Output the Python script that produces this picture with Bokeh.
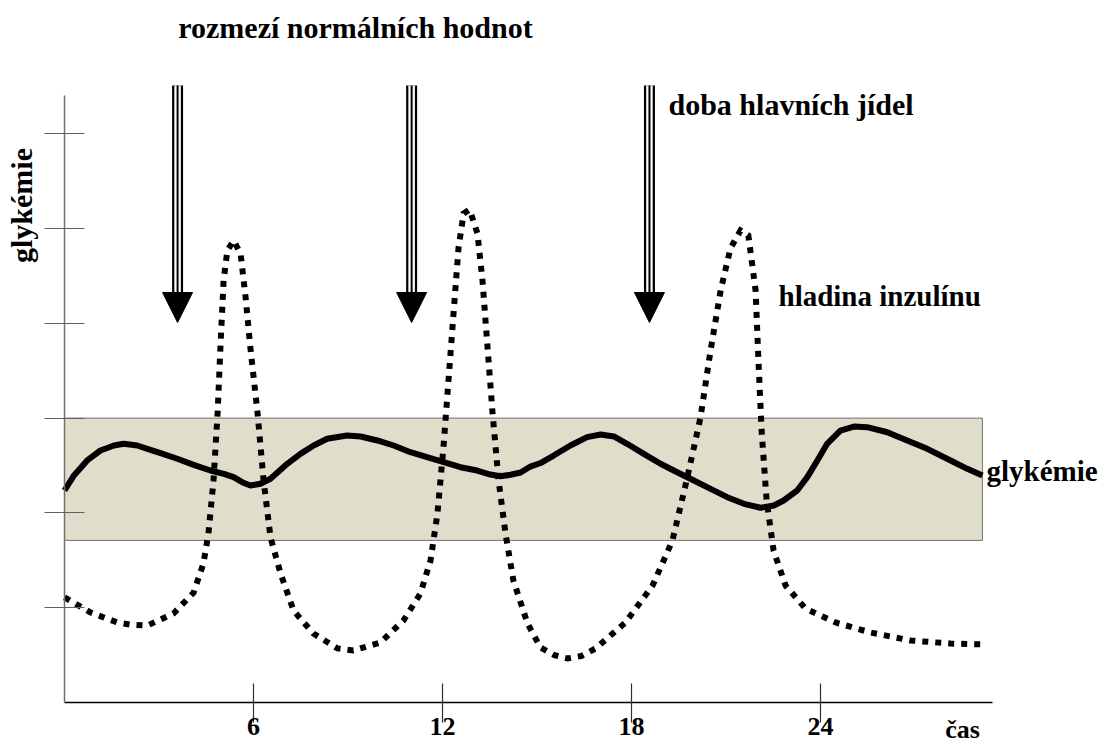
import numpy as np
from bokeh.plotting import figure
from bokeh.models import LinearAxis, Range1d, Label, FixedTicker
from bokeh.embed import file_html
from bokeh.resources import INLINE

# ---------------- data (hours, relative level) ----------------
hours_gly = [0.00, 0.30, 0.72, 1.14, 1.57, 1.88, 2.31, 2.63, 3.05, 3.58, 4.10, 4.63, 5.06,
             5.37, 5.64, 5.90, 6.22, 6.54, 7.07, 7.49, 7.91, 8.34, 8.97, 9.40, 9.93, 10.45,
             10.98, 11.51, 12.04, 12.57, 13.10, 13.52, 13.84, 14.16, 14.48, 14.79, 15.11,
             15.53, 16.06, 16.59, 17.02, 17.44, 17.86, 18.39, 18.92, 19.45, 19.98, 20.51,
             21.04, 21.57, 22.10, 22.52, 22.83, 23.26, 23.58, 23.90, 24.21, 24.63, 25.06,
             25.48, 26.12, 26.75, 27.39, 28.13, 28.66, 29.14]
glycemia = [2.236, 2.395, 2.553, 2.658, 2.711, 2.729, 2.711, 2.676, 2.630, 2.571, 2.507, 2.447, 2.412,
            2.377, 2.324, 2.289, 2.307, 2.360, 2.518, 2.623, 2.711, 2.782, 2.816, 2.806, 2.764, 2.711,
            2.640, 2.588, 2.535, 2.482, 2.447, 2.405, 2.387, 2.402, 2.426, 2.489, 2.526,
            2.605, 2.711, 2.799, 2.827, 2.806, 2.729, 2.623, 2.518, 2.429, 2.342, 2.254,
            2.166, 2.096, 2.054, 2.078, 2.131, 2.236, 2.377, 2.553, 2.729, 2.869, 2.911,
            2.904, 2.851, 2.764, 2.676, 2.553, 2.465, 2.395]

hours_ins = [0.00, 0.83, 1.30, 1.68, 2.10, 2.63, 3.46, 4.10, 4.41, 4.57, 4.73, 4.86, 4.95, 5.05, 5.17,
             5.37, 5.59, 5.75, 5.90, 6.13, 6.32, 6.54, 6.86, 7.27, 7.90, 8.67, 9.17, 10.03,
             10.76, 11.30, 11.62, 11.84, 12.03, 12.19, 12.35, 12.51, 12.67, 12.86, 13.11,
             13.27, 13.43, 13.59, 13.78, 14.00, 14.25, 14.70, 15.11, 15.55, 15.97, 16.40, 16.86, 17.81,
             18.67, 19.30, 19.75, 20.19, 20.51, 20.83, 21.14, 21.46, 21.71, 21.94, 22.03,
             22.13, 22.29, 22.51, 22.89, 23.52, 24.48, 25.59, 26.86, 28.13, 29.24]
insulin = [1.108, 0.949, 0.890, 0.844, 0.820, 0.812, 0.939, 1.160, 1.466, 1.783, 2.342, 3.049, 3.745, 4.451, 4.768,
           4.873, 4.736, 4.272, 3.745, 3.049, 2.342, 1.741, 1.361, 0.970, 0.728, 0.570, 0.549, 0.633,
           0.865, 1.150, 1.498, 1.994, 2.690, 3.397, 4.103, 4.800, 5.158, 5.200, 4.947,
           4.451, 3.745, 3.049, 2.342, 1.783, 1.287, 0.833, 0.580, 0.500, 0.464, 0.490, 0.570, 0.844,
           1.234, 1.709, 2.342, 3.006, 3.713, 4.346, 4.789, 4.979, 4.926, 4.346, 3.608,
           2.869, 2.131, 1.603, 1.234, 0.992, 0.844, 0.738, 0.654, 0.622, 0.612]

meal_times = [3.59, 11.02, 18.57]
normal_low = 1.71
normal_high = 3.0
band_end = 29.14

x_ticks = [6, 12, 18, 24]
y_ticks = [1, 2, 3, 4, 5, 6]

title_text = "rozmezí normálních hodnot"
meal_text = "doba hlavních jídel"
insulin_text = "hladina inzulínu"
gly_text = "glykémie"
y_label_text = "glykémie"
x_label_text = "čas"

# ---------------- layout constants ----------------
W, H = 1106, 747
PX_H = 31.5       # pixels per hour
PX_U = 94.8       # pixels per level unit
X0 = 64           # canvas px of x = 0
Y0 = 702          # canvas px (from top) of y = 0

x_rng = Range1d(-X0 / PX_H, (W - X0) / PX_H)
y_rng = Range1d(-(H - Y0) / PX_U, Y0 / PX_U)

FONT = "Liberation Serif"

p = figure(width=W, height=H, x_range=x_rng, y_range=y_rng,
           output_backend="svg", toolbar_location=None,
           x_axis_location=None, y_axis_location=None,
           min_border=0, min_border_left=0, min_border_right=0,
           min_border_top=0, min_border_bottom=0,
           outline_line_color=None, background_fill_color="white",
           border_fill_color="white")
p.xgrid.grid_line_color = None
p.ygrid.grid_line_color = None

# normal range band
p.quad(left=[0], right=[band_end], bottom=[normal_low], top=[normal_high],
       fill_color="#e0ddcb", line_color="#707070", line_width=1)

# glycemia (solid)
p.line(hours_gly, glycemia, line_width=6, line_color="black", line_join="round")

# insulin (dotted)
p.line(hours_ins, insulin, line_width=6, line_color="black",
       line_dash="6 7", line_cap="butt", line_join="miter")

# meal arrows (triple shaft + head)
shaft_top = (Y0 - 85) / PX_U
head_base = (Y0 - 292) / PX_U
head_tip = (Y0 - 322) / PX_U
hw = 15 / PX_H
tops = [shaft_top] * len(meal_times)
bases = [head_base] * len(meal_times)
p.segment(x0=meal_times, y0=tops, x1=meal_times, y1=bases,
          line_width=11, line_color="black", line_cap="butt")
p.segment(x0=meal_times, y0=tops, x1=meal_times, y1=bases,
          line_width=6.5, line_color="white", line_cap="butt")
p.segment(x0=meal_times, y0=tops, x1=meal_times, y1=bases,
          line_width=2, line_color="black", line_cap="butt")
p.patches(xs=[[t - hw, t + hw, t] for t in meal_times],
          ys=[[head_base, head_base, head_tip] for _ in meal_times],
          fill_color="black", line_color="black", line_width=1)

# axes at fixed location
yaxis = LinearAxis(fixed_location=0, bounds=(0, 6.40), ticker=FixedTicker(ticks=y_ticks),
                   major_tick_in=20, major_tick_out=20,
                   minor_tick_line_color=None,
                   major_label_overrides={t: " " for t in y_ticks},
                   major_label_text_font_size="10px",
                   axis_line_color="#707070", axis_line_width=1.5,
                   major_tick_line_color="#606060", major_tick_line_width=1.2)
p.add_layout(yaxis, "left")

xaxis = LinearAxis(fixed_location=0, bounds=(0, 29.45), ticker=FixedTicker(ticks=x_ticks),
                   major_tick_in=19, major_tick_out=20,
                   minor_tick_line_color=None,
                   axis_line_color="black", axis_line_width=1.5,
                   major_tick_line_color="#303030", major_tick_line_width=1.2,
                   major_label_text_font=FONT, major_label_text_font_size="26px",
                   major_label_text_font_style="bold", major_label_text_color="black",
                   major_label_standoff=-5)
p.add_layout(xaxis, "below")

# texts
def lab(x, y, text, align="left", angle=0.0, size="29px"):
    p.add_layout(Label(x=x, y=y, text=text, text_font=FONT, text_font_size=size,
                       text_font_style="bold", text_color="black",
                       text_align=align, text_baseline="alphabetic", angle=angle))

lab((355 - 64) / PX_H, (702 - 27) / PX_U, title_text, align="center", size="30px")
lab((668 - 64) / PX_H, (702 - 104) / PX_U, meal_text, size="30px")
lab((778 - 64) / PX_H, (702 - 295) / PX_U, insulin_text)
lab((986 - 64) / PX_H, (702 - 470) / PX_U, gly_text)
lab((21 - 64) / PX_H, (702 - 205) / PX_U, y_label_text, align="center", angle=np.pi / 2, size="30px")
lab((962 - 64) / PX_H, (702 - 729) / PX_U, x_label_text, align="center", size="26px")

open("out.html", "w").write(file_html(p, INLINE))
